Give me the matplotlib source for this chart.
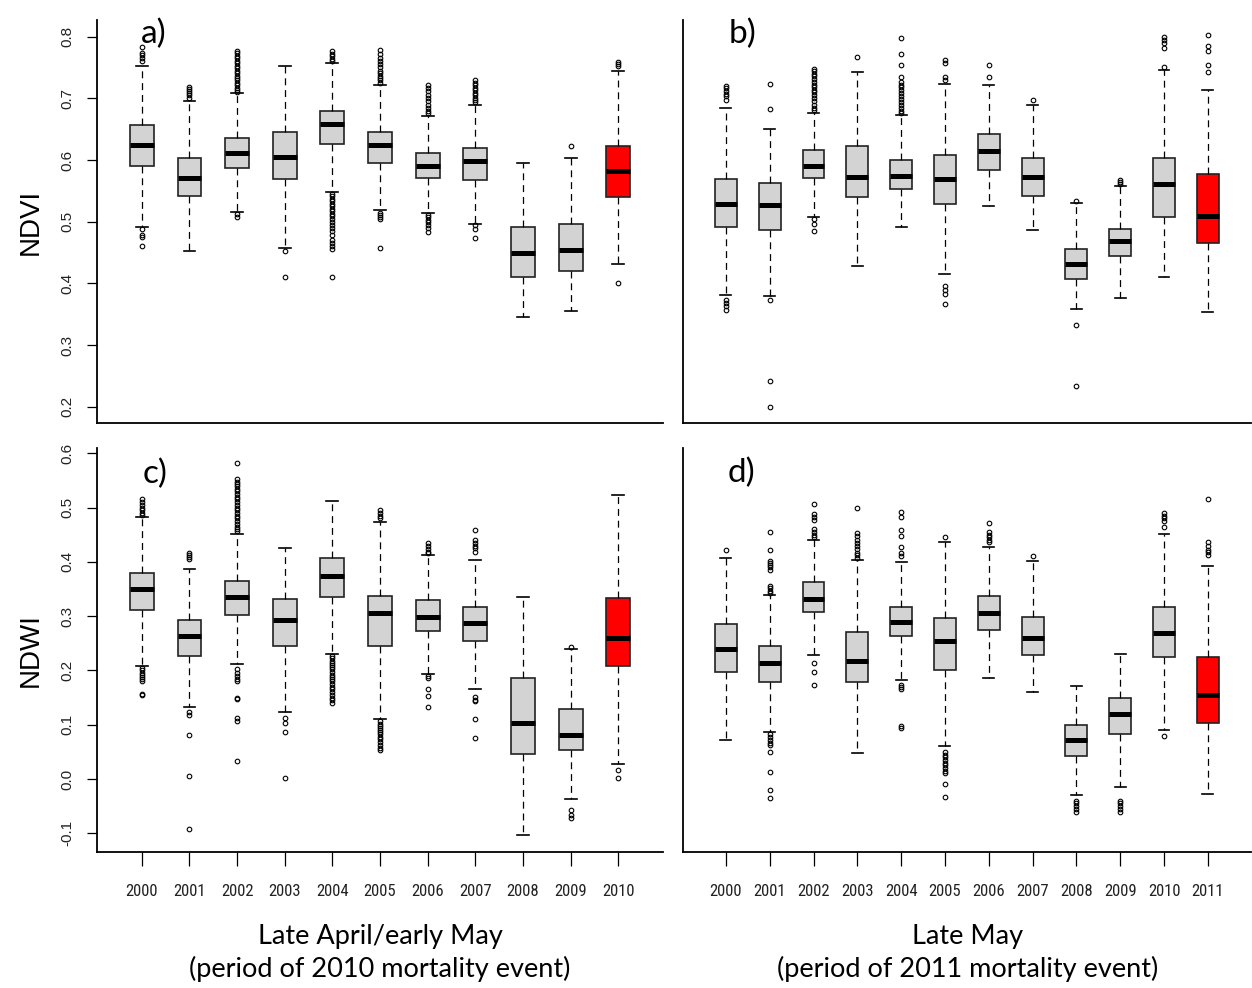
import numpy as np
import matplotlib
matplotlib.use("Agg")
import matplotlib.pyplot as plt
from matplotlib import font_manager as fm

plt.rcParams['axes.unicode_minus'] = False
plt.rcParams['lines.scale_dashes'] = False

years_a = [str(y) for y in range(2000, 2011)]
years_b = [str(y) for y in range(2000, 2012)]

# NDVI, late April/early May (panel a)
a_lo = [0.492, 0.453, 0.516, 0.457, 0.548, 0.519, 0.514, 0.497, 0.345, 0.356, 0.432]
a_q1 = [0.590, 0.542, 0.587, 0.569, 0.626, 0.595, 0.571, 0.568, 0.411, 0.421, 0.540]
a_med = [0.624, 0.571, 0.611, 0.605, 0.658, 0.624, 0.590, 0.598, 0.450, 0.455, 0.582]
a_q3 = [0.656, 0.603, 0.635, 0.645, 0.680, 0.645, 0.611, 0.619, 0.492, 0.497, 0.622]
a_hi = [0.753, 0.695, 0.708, 0.753, 0.758, 0.722, 0.672, 0.690, 0.595, 0.604, 0.745]
a_out = [
    [0.783, 0.774, 0.771, 0.766, 0.761, 0.488, 0.479, 0.475, 0.461],
    [0.718, 0.715, 0.712, 0.708, 0.705, 0.701],
    [0.776, 0.773, 0.769, 0.765, 0.761, 0.757, 0.753, 0.749, 0.745, 0.741, 0.737,
     0.733, 0.729, 0.725, 0.721, 0.717, 0.713, 0.711, 0.513, 0.508],
    [0.453, 0.411],
    [0.776, 0.772, 0.768, 0.764, 0.761, 0.545, 0.541, 0.537, 0.533, 0.529, 0.525,
     0.521, 0.517, 0.513, 0.509, 0.505, 0.500, 0.495, 0.490, 0.485, 0.478, 0.470,
     0.465, 0.460, 0.456, 0.411],
    [0.778, 0.772, 0.765, 0.760, 0.755, 0.750, 0.745, 0.741, 0.737, 0.733, 0.729,
     0.725, 0.514, 0.511, 0.508, 0.505, 0.458],
    [0.722, 0.717, 0.712, 0.705, 0.700, 0.695, 0.690, 0.685, 0.680, 0.676,
     0.511, 0.507, 0.503, 0.499, 0.495, 0.490, 0.484],
    [0.729, 0.725, 0.721, 0.717, 0.713, 0.709, 0.705, 0.701, 0.697, 0.694,
     0.494, 0.489, 0.474],
    [],
    [0.622],
    [0.759, 0.756, 0.752, 0.400],
]

# NDVI, late May (panel b)
b_lo = [0.382, 0.380, 0.508, 0.429, 0.492, 0.416, 0.526, 0.487, 0.358, 0.377, 0.411, 0.353]
b_q1 = [0.492, 0.487, 0.571, 0.540, 0.553, 0.529, 0.584, 0.542, 0.408, 0.445, 0.508, 0.466]
b_med = [0.529, 0.527, 0.590, 0.572, 0.574, 0.569, 0.614, 0.572, 0.432, 0.469, 0.561, 0.510]
b_q3 = [0.569, 0.563, 0.616, 0.622, 0.600, 0.608, 0.643, 0.603, 0.456, 0.489, 0.603, 0.577]
b_hi = [0.685, 0.651, 0.677, 0.743, 0.673, 0.724, 0.721, 0.690, 0.530, 0.558, 0.746, 0.714]
b_out = [
    [0.720, 0.716, 0.712, 0.707, 0.703, 0.697, 0.373, 0.368, 0.363, 0.357],
    [0.724, 0.682, 0.374, 0.242, 0.200],
    [0.747, 0.744, 0.740, 0.736, 0.731, 0.726, 0.722, 0.718, 0.714, 0.710, 0.705,
     0.700, 0.695, 0.690, 0.685, 0.681, 0.504, 0.497, 0.485],
    [0.767],
    [0.798, 0.772, 0.754, 0.735, 0.727, 0.722, 0.718, 0.713, 0.708, 0.703, 0.699,
     0.694, 0.689, 0.685, 0.680, 0.676],
    [0.762, 0.757, 0.734, 0.730, 0.396, 0.389, 0.383, 0.366],
    [0.754, 0.734],
    [0.698],
    [0.534, 0.332, 0.234],
    [0.568, 0.565, 0.562],
    [0.800, 0.795, 0.790, 0.781, 0.751],
    [0.802, 0.784, 0.776, 0.754, 0.743],
]

# NDWI, late April/early May (panel c)
c_lo = [0.209, 0.132, 0.212, 0.123, 0.230, 0.110, 0.194, 0.165, -0.103, -0.036, 0.028]
c_q1 = [0.311, 0.227, 0.302, 0.245, 0.335, 0.245, 0.272, 0.255, 0.046, 0.054, 0.209]
c_med = [0.350, 0.263, 0.335, 0.293, 0.374, 0.305, 0.299, 0.288, 0.104, 0.081, 0.260]
c_q3 = [0.380, 0.293, 0.365, 0.332, 0.407, 0.338, 0.329, 0.317, 0.186, 0.129, 0.334]
c_hi = [0.482, 0.386, 0.452, 0.426, 0.512, 0.473, 0.413, 0.404, 0.335, 0.240, 0.523]
c_out = [
    [0.515, 0.510, 0.505, 0.500, 0.495, 0.490, 0.487, 0.204, 0.200, 0.196, 0.192,
     0.188, 0.185, 0.181, 0.157, 0.154],
    [0.417, 0.413, 0.409, 0.405, 0.124, 0.117, 0.081, 0.006, -0.093],
    [0.582, 0.552, 0.548, 0.544, 0.540, 0.535, 0.530, 0.525, 0.520, 0.515, 0.510,
     0.505, 0.500, 0.495, 0.490, 0.485, 0.480, 0.475, 0.470, 0.465, 0.461, 0.457,
     0.202, 0.196, 0.190, 0.185, 0.180, 0.150, 0.148, 0.112, 0.106, 0.033],
    [0.112, 0.103, 0.087, 0.002],
    [0.226, 0.222, 0.218, 0.214, 0.210, 0.206, 0.202, 0.197, 0.192, 0.188, 0.184,
     0.180, 0.175, 0.170, 0.165, 0.160, 0.155, 0.150, 0.145, 0.140],
    [0.496, 0.490, 0.485, 0.480, 0.106, 0.102, 0.098, 0.094, 0.090, 0.086, 0.082,
     0.078, 0.073, 0.068, 0.063, 0.058, 0.054],
    [0.434, 0.429, 0.424, 0.419, 0.416, 0.189, 0.186, 0.166, 0.153, 0.132],
    [0.459, 0.440, 0.435, 0.430, 0.425, 0.419, 0.151, 0.146, 0.143, 0.111, 0.075],
    [],
    [0.243, -0.058, -0.066, -0.071],
    [0.016, 0.001],
]

# NDWI, late May (panel d)
d_lo = [0.072, 0.087, 0.228, 0.048, 0.183, 0.060, 0.186, 0.161, -0.030, -0.015, 0.090, -0.027]
d_q1 = [0.198, 0.179, 0.307, 0.179, 0.263, 0.201, 0.275, 0.229, 0.042, 0.083, 0.224, 0.104]
d_med = [0.240, 0.213, 0.332, 0.218, 0.290, 0.255, 0.306, 0.260, 0.071, 0.120, 0.269, 0.155]
d_q3 = [0.285, 0.245, 0.362, 0.270, 0.317, 0.296, 0.338, 0.299, 0.099, 0.150, 0.317, 0.224]
d_hi = [0.408, 0.339, 0.440, 0.404, 0.399, 0.437, 0.428, 0.401, 0.171, 0.230, 0.452, 0.393]
d_out = [
    [0.422],
    [0.455, 0.422, 0.402, 0.398, 0.394, 0.390, 0.385, 0.355, 0.351, 0.347, 0.343,
     0.082, 0.077, 0.072, 0.066, 0.063, 0.049, 0.013, -0.020, -0.035],
    [0.506, 0.488, 0.483, 0.478, 0.460, 0.455, 0.450, 0.446, 0.213, 0.198, 0.174],
    [0.500, 0.453, 0.447, 0.441, 0.435, 0.429, 0.423, 0.417, 0.412, 0.408],
    [0.491, 0.482, 0.459, 0.448, 0.428, 0.417, 0.411, 0.174, 0.169, 0.165, 0.097, 0.094],
    [0.445, 0.050, 0.045, 0.040, 0.035, 0.030, 0.025, 0.020, 0.015, 0.011, -0.009, -0.033],
    [0.471, 0.455, 0.450, 0.445, 0.440, 0.436],
    [0.411],
    [-0.040, -0.045, -0.050, -0.055, -0.060],
    [-0.040, -0.045, -0.050, -0.055, -0.060],
    [0.490, 0.485, 0.480, 0.475, 0.465, 0.079],
    [0.515, 0.436, 0.430, 0.422, 0.418, 0.413],
]

ndvi_ticks = [0.2, 0.3, 0.4, 0.5, 0.6, 0.7, 0.8]
ndwi_ticks = [-0.1, 0.0, 0.1, 0.2, 0.3, 0.4, 0.5, 0.6]


def narrow_font():
    # look for a condensed sans face for the year labels
    prefer = ['Liberation Sans Narrow', 'Arial Narrow', 'Roboto Condensed',
              'Open Sans Condensed', 'DejaVu Sans Condensed']
    fonts = fm.fontManager.ttflist
    for name in prefer:
        for f in fonts:
            if f.name == name and f.style == 'normal' and f.weight in (400, 'normal', 'regular'):
                return fm.FontProperties(fname=f.fname, size=12), True
    for f in fonts:
        if (f.stretch in ('condensed', 'semi-condensed') or 'Condensed' in f.fname
                or 'Narrow' in f.fname) and f.style == 'normal' \
                and 'Bold' not in f.fname and 'Oblique' not in f.fname \
                and 'Mono' not in f.fname and 'Serif' not in f.fname:
            return fm.FontProperties(fname=f.fname, size=12), True
    return fm.FontProperties(family='Liberation Sans', size=9.5), False


def draw_panel(ax, lo, q1, med, q3, hi, out, label, lab_pos):
    stats = []
    for i in range(len(med)):
        stats.append(dict(whislo=lo[i], q1=q1[i], med=med[i], q3=q3[i],
                          whishi=hi[i], fliers=out[i]))
    n = len(stats)
    bp = ax.bxp(stats, positions=np.arange(1, n + 1), widths=0.5,
                capwidths=0.25, patch_artist=True, showfliers=True,
                boxprops=dict(facecolor='#d3d3d3', edgecolor='#222222', linewidth=1.2),
                medianprops=dict(color='black', linewidth=3.6, solid_capstyle='butt'),
                whiskerprops=dict(color='black', linewidth=0.9, linestyle=(0, (5, 3.5))),
                capprops=dict(color='black', linewidth=1.2),
                flierprops=dict(marker='o', markerfacecolor='none',
                                markeredgecolor='black', markersize=3.3,
                                markeredgewidth=0.8))
    bp['boxes'][-1].set_facecolor('#ff0000')
    ax.set_xlim(0.5 - 0.04 * n, n + 0.5 + 0.04 * n)
    for s in ['top', 'right']:
        ax.spines[s].set_visible(False)
    for s in ['left', 'bottom']:
        ax.spines[s].set_linewidth(1.3)
    ax.text(lab_pos[0], lab_pos[1], label, transform=ax.transAxes, fontsize=24,
            family='Lato', va='center', ha='left')
    return bp


fig = plt.figure(figsize=(12.52, 9.88), dpi=100)
ax_a = fig.add_axes([0.0775, 0.5719, 0.4521, 0.4079])
ax_b = fig.add_axes([0.5455, 0.5719, 0.4535, 0.4079])
ax_c = fig.add_axes([0.0775, 0.1377, 0.4521, 0.4089])
ax_d = fig.add_axes([0.5455, 0.1377, 0.4535, 0.4089])

draw_panel(ax_a, a_lo, a_q1, a_med, a_q3, a_hi, a_out, 'a)', (0.078, 0.966))
draw_panel(ax_b, b_lo, b_q1, b_med, b_q3, b_hi, b_out, 'b)', (0.081, 0.966))
draw_panel(ax_c, c_lo, c_q1, c_med, c_q3, c_hi, c_out, 'c)', (0.080, 0.936))
draw_panel(ax_d, d_lo, d_q1, d_med, d_q3, d_hi, d_out, 'd)', (0.079, 0.938))

for ax in (ax_a, ax_b):
    ax.set_ylim(0.174, 0.827)
for ax in (ax_c, ax_d):
    ax.set_ylim(-0.1344, 0.6098)

for ax, ticks in ((ax_a, ndvi_ticks), (ax_c, ndwi_ticks)):
    ax.set_yticks(ticks)
    ax.set_yticklabels(['%.1f' % t for t in ticks], rotation=90, va='center',
                       family='Liberation Sans', fontsize=11, color='#222222')
    ax.tick_params(axis='y', length=7.5, width=0.9, pad=9)
for ax in (ax_b, ax_d):
    ax.set_yticks([])

for ax in (ax_a, ax_b):
    ax.set_xticks([])
ax_c.set_xticks(np.arange(1, len(years_a) + 1))
ax_c.set_xticklabels(years_a)
ax_d.set_xticks(np.arange(1, len(years_b) + 1))
ax_d.set_xticklabels(years_b)
year_font, _ = narrow_font()
for ax in (ax_c, ax_d):
    ax.tick_params(axis='x', length=10, width=0.9, pad=13)
    for t in ax.get_xticklabels():
        t.set_fontproperties(year_font)
        t.set_color('#222222')

ax_a.set_ylabel('NDVI', fontsize=20, family='Liberation Sans')
ax_c.set_ylabel('NDWI', fontsize=20, family='Liberation Sans')
ax_a.yaxis.set_label_coords(-0.094, 0.5)
ax_c.yaxis.set_label_coords(-0.094, 0.5)

fig.text(0.3035, 0.0526, 'Late April/early May', ha='center', va='center',
         family='Lato', fontsize=19.5)
fig.text(0.3035, 0.0192, '(period of 2010 mortality event)', ha='center', va='center',
         family='Lato', fontsize=19.5)
fig.text(0.7725, 0.0526, 'Late May', ha='center', va='center',
         family='Lato', fontsize=19.5)
fig.text(0.7725, 0.0192, '(period of 2011 mortality event)', ha='center', va='center',
         family='Lato', fontsize=19.5)

fig.savefig('out.png', dpi=100)
